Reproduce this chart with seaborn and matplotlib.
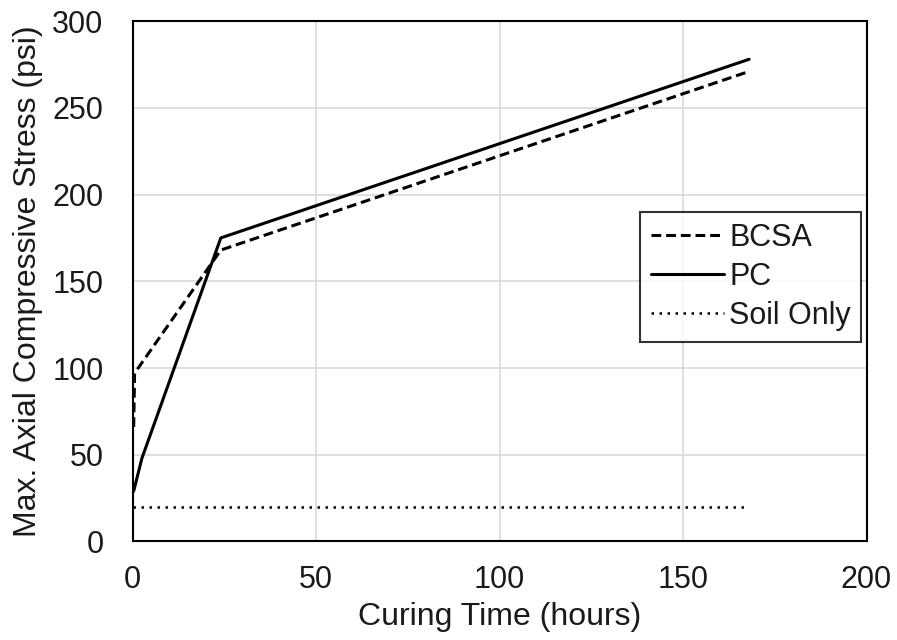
import matplotlib
matplotlib.use("Agg")
import matplotlib.pyplot as plt
import seaborn as sns
import pandas as pd

bcsa_hours = [0.25, 0.5, 24, 168]
bcsa_stress = [66, 97, 168, 271]
pc_hours = [0.25, 2.5, 24, 168]
pc_stress = [29, 48, 175, 278]
soil_hours = [0, 168]
soil_stress = [20, 20]

sns.set_theme(style="whitegrid")
plt.rcParams['font.family'] = ['Liberation Sans', 'DejaVu Sans']

fig, ax = plt.subplots(figsize=(8.97, 6.4), dpi=100)
fig.subplots_adjust(left=0.148, right=0.966, top=0.967, bottom=0.154)

df_b = pd.DataFrame({"h": bcsa_hours, "s": bcsa_stress})
df_p = pd.DataFrame({"h": pc_hours, "s": pc_stress})
df_s = pd.DataFrame({"h": soil_hours, "s": soil_stress})

sns.lineplot(data=df_b, x="h", y="s", ax=ax, color="black", lw=2.2,
             linestyle=(0, (3.2, 1.6)), label="BCSA", sort=False)
sns.lineplot(data=df_p, x="h", y="s", ax=ax, color="black", lw=2.2,
             label="PC", sort=False)
sns.lineplot(data=df_s, x="h", y="s", ax=ax, color="black", lw=1.8,
             linestyle=(0, (1, 2.2)), label="Soil Only", sort=False)

txt = "#1a1a1a"
ax.set_xlim(0, 200)
ax.set_ylim(0, 300)
ax.set_xticks([0, 50, 100, 150, 200])
ax.set_yticks([0, 50, 100, 150, 200, 250, 300])
ax.tick_params(labelsize=22, length=0, labelcolor=txt)
ax.tick_params(axis="y", pad=21)
ax.tick_params(axis="x", pad=17)
ax.set_xlabel("Curing Time (hours)", fontsize=23, labelpad=5, color=txt)
ax.set_ylabel("Max. Axial Compressive Stress (psi)", fontsize=23, labelpad=7, color=txt)
ax.grid(True, color="#d9d9d9", lw=1.2)
for sp in ax.spines.values():
    sp.set_color("black")
    sp.set_linewidth(1.5)

leg = ax.legend(loc="upper right", bbox_to_anchor=(0.993, 0.633), fontsize=22,
                frameon=True, fancybox=False, handlelength=2.4,
                handletextpad=0.15, borderpad=0.35, labelspacing=0.3,
                borderaxespad=0)
leg.get_frame().set_edgecolor("black")
leg.get_frame().set_linewidth(1.5)
for t in leg.get_texts():
    t.set_color(txt)

fig.savefig("out.png", dpi=100)
